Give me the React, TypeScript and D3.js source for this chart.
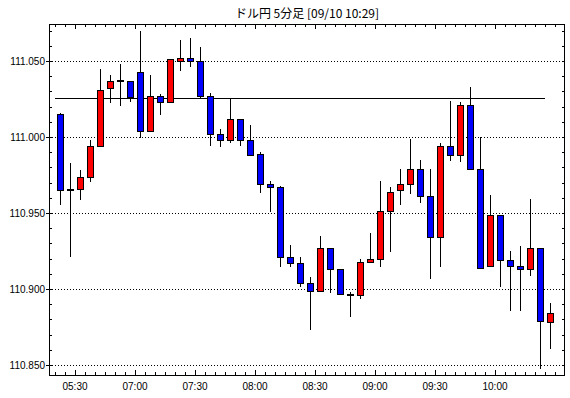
import React from 'react'
import * as d3 from 'd3'

// 5分足 ドル円
const times = [
  '05:20', '05:25', '05:30', '05:35', '05:40', '05:45', '05:50', '05:55',
  '07:00', '07:05', '07:10', '07:15', '07:20', '07:25',
  '07:30', '07:35', '07:40', '07:45', '07:50', '07:55',
  '08:00', '08:05', '08:10', '08:15', '08:20', '08:25',
  '08:30', '08:35', '08:40', '08:45', '08:50', '08:55',
  '09:00', '09:05', '09:10', '09:15', '09:20', '09:25',
  '09:30', '09:35', '09:40', '09:45', '09:50', '09:55',
  '10:00', '10:05', '10:10', '10:15', '10:20', '10:25'
]

const opens = [
  111.015, 110.965, 110.966, 110.974, 110.994, 111.032, 111.037, 111.037,
  111.043, 111.004, 111.027, 111.023, 111.050, 111.052,
  111.050, 111.027, 111.002, 110.998, 111.012, 110.998,
  110.989, 110.969, 110.967, 110.921, 110.917, 110.904,
  110.899, 110.927, 110.913, 110.896, 110.896, 110.918,
  110.920, 110.951, 110.965, 110.969, 110.979, 110.961,
  110.934, 110.994, 110.988, 111.021, 110.979, 110.915,
  110.949, 110.919, 110.915, 110.913, 110.927, 110.878
]

const highs = [
  111.016, 110.983, 110.978, 110.998, 111.045, 111.041, 111.048, 111.037,
  111.070, 111.041, 111.028, 111.051, 111.064, 111.065,
  111.059, 111.029, 111.005, 111.025, 111.012, 111.008,
  110.990, 110.971, 110.968, 110.929, 110.921, 110.908,
  110.935, 110.927, 110.913, 110.898, 110.920, 110.937,
  110.971, 110.967, 110.979, 110.999, 110.985, 110.979,
  110.996, 111.024, 111.023, 111.033, 111.000, 110.962,
  110.949, 110.925, 110.928, 110.959, 110.927, 110.891
]

const lows = [
  110.956, 110.922, 110.959, 110.971, 110.994, 111.023, 111.021, 111.024,
  111.000, 111.004, 111.015, 111.023, 111.044, 111.047,
  111.026, 110.995, 110.994, 110.997, 110.995, 110.988,
  110.964, 110.951, 110.915, 110.915, 110.902, 110.874,
  110.899, 110.898, 110.897, 110.882, 110.894, 110.918,
  110.915, 110.925, 110.956, 110.963, 110.957, 110.907,
  110.915, 110.985, 110.984, 110.979, 110.914, 110.915,
  110.902, 110.886, 110.886, 110.909, 110.848, 110.861
]

const closes = [
  110.965, 110.965, 110.974, 110.994, 111.031, 111.037, 111.037, 111.026,
  111.004, 111.027, 111.023, 111.051, 111.052, 111.050,
  111.027, 111.002, 110.998, 111.012, 110.998, 110.988,
  110.969, 110.967, 110.921, 110.917, 110.904, 110.899,
  110.927, 110.913, 110.897, 110.896, 110.918, 110.920,
  110.951, 110.964, 110.969, 110.979, 110.961, 110.934,
  110.994, 110.988, 111.021, 110.979, 110.914, 110.949,
  110.919, 110.915, 110.913, 110.927, 110.879, 110.884
]

const tickLabels = ['05:30', '07:00', '07:30', '08:00', '08:30', '09:00', '09:30', '10:00']
const gridValues = [110.85, 110.9, 110.95, 111.0, 111.05]
const refLevel = 111.0255
const title = 'ドル円 5分足 [09/10 10:29]'

const W = 570
const H = 398
const left = 49
const right = 565
const top = 24
const bottom = 375

const App: React.FC = () => {
  const x = d3.scaleBand<string>().domain(times).range([55, 555]).padding(0)
  const y = d3.scaleLinear().domain([110.85, 111.05]).range([365, 61])
  const bw = x.bandwidth()
  const px = (v: number) => Math.round(v) + 0.5

  const minorY = d3.range(110.85, 111.0701, 0.01).map(v => +v.toFixed(2))
  const xTicks = [...times.map(t => x(t)!), x.range()[1]]

  const candles = times.map((t, i) => ({
    t, o: opens[i], h: highs[i], l: lows[i], c: closes[i]
  }))

  return (
    <svg width={W} height={H} style={{ position: 'absolute', left: 0, top: 0, background: '#fff' }}
      fontFamily="'Liberation Sans', Arial, sans-serif">
      <rect x={0} y={0} width={W} height={H} fill="#fff" />
      <text x={(left + right) / 2} y={18} textAnchor="middle" fontSize={12}
        fontFamily="'Noto Sans CJK JP', sans-serif" fill="#000">{title}</text>

      {/* grid */}
      {gridValues.map(v => (
        <line key={v} x1={left} x2={right} y1={px(y(v))} y2={px(y(v))}
          stroke="#000" strokeWidth={1} strokeDasharray="1,2" />
      ))}

      {/* reference line */}
      <line x1={x(times[0])!} x2={x(times[times.length - 2])! + bw}
        y1={px(y(refLevel))} y2={px(y(refLevel))} stroke="#000" strokeWidth={1} />

      {/* candles */}
      <g shapeRendering="crispEdges">
        {candles.map(d => {
          const cx = Math.round(x(d.t)! + bw / 2)
          const up = d.c > d.o
          const flat = Math.abs(d.c - d.o) < 0.0015
          const yTop = Math.round(y(Math.max(d.o, d.c)))
          const yBot = Math.round(y(Math.min(d.o, d.c)))
          return (
            <g key={d.t}>
              <line x1={cx + 0.5} x2={cx + 0.5} y1={Math.round(y(d.h))} y2={Math.round(y(d.l)) + 1}
                stroke="#000" strokeWidth={1} />
              {flat ? (
                <rect x={cx - 3} y={Math.round(y(d.c)) - 1} width={7} height={2} fill="#000" />
              ) : (
                <rect x={cx - 2.5} y={yTop + 0.5} width={6} height={Math.max(1, yBot - yTop)}
                  fill={up ? '#ff0000' : '#0000ff'} stroke="#000" strokeWidth={1} />
              )}
            </g>
          )
        })}
      </g>

      {/* frame and ticks */}
      <g shapeRendering="crispEdges" stroke="#000" strokeWidth={1}>
        <rect x={left + 0.5} y={top + 0.5} width={right - left - 1} height={bottom - top}
          fill="none" />
        {xTicks.map((tx, i) => {
          const major = tickLabels.includes(times[i])
          const len = major ? 5 : 3
          return (
            <g key={'xt' + i}>
              <line x1={tx + 0.5} x2={tx + 0.5} y1={top} y2={top + len} />
              <line x1={tx + 0.5} x2={tx + 0.5} y1={bottom} y2={bottom - len} />
            </g>
          )
        })}
        {minorY.map(v => (
          <g key={'yt' + v}>
            <line x1={left} x2={left + 3} y1={px(y(v))} y2={px(y(v))} />
            <line x1={right - 3} x2={right} y1={px(y(v))} y2={px(y(v))} />
          </g>
        ))}
        {gridValues.map(v => (
          <line key={'yo' + v} x1={left - 3} x2={left} y1={px(y(v))} y2={px(y(v))} />
        ))}
      </g>

      {/* labels */}
      {gridValues.map(v => (
        <text key={'yl' + v} x={left - 4} y={y(v)} dy="0.36em" textAnchor="end"
          fontSize={10} fill="#000">{v.toFixed(3)}</text>
      ))}
      {tickLabels.map(t => (
        <text key={'xl' + t} x={x(t)!} y={390} textAnchor="middle" fontSize={10} fill="#000">{t}</text>
      ))}
    </svg>
  )
}

export default App
